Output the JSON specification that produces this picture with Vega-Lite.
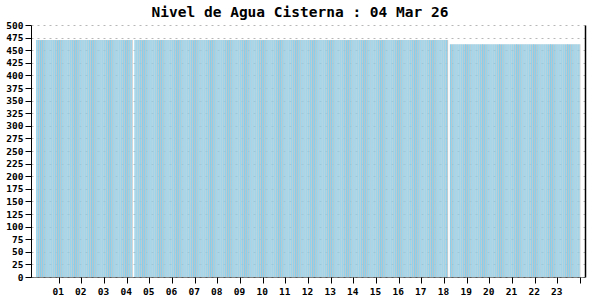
{
  "$schema": "https://vega.github.io/schema/vega-lite/v6.json",
  "autosize": "none",
  "width": 554,
  "height": 252,
  "padding": {"left": 31, "top": 25, "right": 15, "bottom": 23},
  "background": "white",
  "title": {
    "text": "Nivel de Agua Cisterna : 04 Mar 26",
    "font": "DejaVu Sans Mono",
    "fontSize": 14.5,
    "fontWeight": "bold",
    "color": "black",
    "offset": 3,
    "dy": 3,
    "dx": -8
  },
  "config": {
    "view": {"stroke": null},
    "axis": {
      "labelFont": "DejaVu Sans Mono",
      "labelFontSize": 9.5,
      "labelFontWeight": "bold",
      "labelColor": "black",
      "tickColor": "black",
      "domainColor": "black",
      "labelOverlap": false
    }
  },
  "data": {
    "values": [
      {"m":2,"n":470},{"m":7,"n":470},{"m":12,"n":470},{"m":17,"n":470},{"m":22,"n":470},{"m":27,"n":470},{"m":32,"n":470},{"m":37,"n":470},{"m":42,"n":470},{"m":47,"n":470},{"m":52,"n":470},{"m":57,"n":470},
      {"m":62,"n":470},{"m":67,"n":470},{"m":72,"n":470},{"m":77,"n":470},{"m":82,"n":470},{"m":87,"n":470},{"m":92,"n":470},{"m":97,"n":470},{"m":102,"n":470},{"m":107,"n":470},{"m":112,"n":470},{"m":117,"n":470},
      {"m":122,"n":470},{"m":127,"n":470},{"m":132,"n":470},{"m":137,"n":470},{"m":142,"n":470},{"m":147,"n":470},{"m":152,"n":470},{"m":157,"n":470},{"m":162,"n":470},{"m":167,"n":470},{"m":172,"n":470},{"m":177,"n":470},
      {"m":182,"n":470},{"m":187,"n":470},{"m":192,"n":470},{"m":197,"n":470},{"m":202,"n":470},{"m":207,"n":470},{"m":212,"n":470},{"m":217,"n":470},{"m":222,"n":470},{"m":227,"n":470},{"m":232,"n":470},{"m":237,"n":470},
      {"m":242,"n":470},{"m":247,"n":470},{"m":252,"n":470},{"m":262,"n":470},{"m":267,"n":470},{"m":272,"n":470},{"m":277,"n":470},{"m":282,"n":470},{"m":287,"n":470},{"m":292,"n":470},{"m":297,"n":470},
      {"m":302,"n":470},{"m":307,"n":470},{"m":312,"n":470},{"m":317,"n":470},{"m":322,"n":470},{"m":327,"n":470},{"m":332,"n":470},{"m":337,"n":470},{"m":342,"n":470},{"m":347,"n":470},{"m":352,"n":470},{"m":357,"n":470},
      {"m":362,"n":470},{"m":367,"n":470},{"m":372,"n":470},{"m":377,"n":470},{"m":382,"n":470},{"m":387,"n":470},{"m":392,"n":470},{"m":397,"n":470},{"m":402,"n":470},{"m":407,"n":470},{"m":412,"n":470},{"m":417,"n":470},
      {"m":422,"n":470},{"m":427,"n":470},{"m":432,"n":470},{"m":437,"n":470},{"m":442,"n":470},{"m":447,"n":470},{"m":452,"n":470},{"m":457,"n":470},{"m":462,"n":470},{"m":467,"n":470},{"m":472,"n":470},{"m":477,"n":470},
      {"m":482,"n":470},{"m":487,"n":470},{"m":492,"n":470},{"m":497,"n":470},{"m":502,"n":470},{"m":507,"n":470},{"m":512,"n":470},{"m":517,"n":470},{"m":522,"n":470},{"m":527,"n":470},{"m":532,"n":470},{"m":537,"n":470},
      {"m":542,"n":470},{"m":547,"n":470},{"m":552,"n":470},{"m":557,"n":470},{"m":562,"n":470},{"m":567,"n":470},{"m":572,"n":470},{"m":577,"n":470},{"m":582,"n":470},{"m":587,"n":470},{"m":592,"n":470},{"m":597,"n":470},
      {"m":602,"n":470},{"m":607,"n":470},{"m":612,"n":470},{"m":617,"n":470},{"m":622,"n":470},{"m":627,"n":470},{"m":632,"n":470},{"m":637,"n":470},{"m":642,"n":470},{"m":647,"n":470},{"m":652,"n":470},{"m":657,"n":470},
      {"m":662,"n":470},{"m":667,"n":470},{"m":672,"n":470},{"m":677,"n":470},{"m":682,"n":470},{"m":687,"n":470},{"m":692,"n":470},{"m":697,"n":470},{"m":702,"n":470},{"m":707,"n":470},{"m":712,"n":470},{"m":717,"n":470},
      {"m":722,"n":470},{"m":727,"n":470},{"m":732,"n":470},{"m":737,"n":470},{"m":742,"n":470},{"m":747,"n":470},{"m":752,"n":470},{"m":757,"n":470},{"m":762,"n":470},{"m":767,"n":470},{"m":772,"n":470},{"m":777,"n":470},
      {"m":782,"n":470},{"m":787,"n":470},{"m":792,"n":470},{"m":797,"n":470},{"m":802,"n":470},{"m":807,"n":470},{"m":812,"n":470},{"m":817,"n":470},{"m":822,"n":470},{"m":827,"n":470},{"m":832,"n":470},{"m":837,"n":470},
      {"m":842,"n":470},{"m":847,"n":470},{"m":852,"n":470},{"m":857,"n":470},{"m":862,"n":470},{"m":867,"n":470},{"m":872,"n":470},{"m":877,"n":470},{"m":882,"n":470},{"m":887,"n":470},{"m":892,"n":470},{"m":897,"n":470},
      {"m":902,"n":470},{"m":907,"n":470},{"m":912,"n":470},{"m":917,"n":470},{"m":922,"n":470},{"m":927,"n":470},{"m":932,"n":470},{"m":937,"n":470},{"m":942,"n":470},{"m":947,"n":470},{"m":952,"n":470},{"m":957,"n":470},
      {"m":962,"n":470},{"m":967,"n":470},{"m":972,"n":470},{"m":977,"n":470},{"m":982,"n":470},{"m":987,"n":470},{"m":992,"n":470},{"m":997,"n":470},{"m":1002,"n":470},{"m":1007,"n":470},{"m":1012,"n":470},{"m":1017,"n":470},
      {"m":1022,"n":470},{"m":1027,"n":470},{"m":1032,"n":470},{"m":1037,"n":470},{"m":1042,"n":470},{"m":1047,"n":470},{"m":1052,"n":470},{"m":1057,"n":470},{"m":1062,"n":470},{"m":1067,"n":470},{"m":1072,"n":470},{"m":1077,"n":470},
      {"m":1082,"n":470},{"m":1087,"n":470},{"m":1097,"n":462},{"m":1102,"n":462},{"m":1107,"n":462},{"m":1112,"n":462},{"m":1117,"n":462},{"m":1122,"n":462},{"m":1127,"n":462},{"m":1132,"n":462},{"m":1137,"n":462},
      {"m":1142,"n":462},{"m":1147,"n":462},{"m":1152,"n":462},{"m":1157,"n":462},{"m":1162,"n":462},{"m":1167,"n":462},{"m":1172,"n":462},{"m":1177,"n":462},{"m":1182,"n":462},{"m":1187,"n":462},{"m":1192,"n":462},{"m":1197,"n":462},
      {"m":1202,"n":462},{"m":1207,"n":462},{"m":1212,"n":462},{"m":1217,"n":462},{"m":1222,"n":462},{"m":1227,"n":462},{"m":1232,"n":462},{"m":1237,"n":462},{"m":1242,"n":462},{"m":1247,"n":462},{"m":1252,"n":462},{"m":1257,"n":462},
      {"m":1262,"n":462},{"m":1267,"n":462},{"m":1272,"n":462},{"m":1277,"n":462},{"m":1282,"n":462},{"m":1287,"n":462},{"m":1292,"n":462},{"m":1297,"n":462},{"m":1302,"n":462},{"m":1307,"n":462},{"m":1312,"n":462},{"m":1317,"n":462},
      {"m":1322,"n":462},{"m":1327,"n":462},{"m":1332,"n":462},{"m":1337,"n":462},{"m":1342,"n":462},{"m":1347,"n":462},{"m":1352,"n":462},{"m":1357,"n":462},{"m":1362,"n":462},{"m":1367,"n":462},{"m":1372,"n":462},{"m":1377,"n":462},
      {"m":1382,"n":462},{"m":1387,"n":462},{"m":1392,"n":462},{"m":1397,"n":462},{"m":1402,"n":462},{"m":1407,"n":462},{"m":1412,"n":462},{"m":1417,"n":462},{"m":1422,"n":462},{"m":1427,"n":462},{"m":1432,"n":462},{"m":1437,"n":462}
    ]
  },
  "encoding": {
    "x": {
      "field": "m",
      "type": "quantitative",
      "scale": {"domain": [0, 1440], "nice": false, "zero": false},
      "axis": {
        "title": null,
        "values": [60,120,180,240,300,360,420,480,540,600,660,720,780,840,900,960,1020,1080,1140,1200,1260,1320,1380,1440],
        "labelExpr": "datum.value < 1440 ? format(datum.value / 60, '02d') : ''",
        "grid": false,
        "tickSize": 6,
        "labelPadding": 3,
        "labelOffset": -1,
        "labelFlush": false,
        "labelOverlap": false,
        "domainDash": [1, 1],
        "domainColor": "black"
      }
    },
    "y": {
      "field": "n",
      "type": "quantitative",
      "scale": {"domain": [0, 500], "nice": false},
      "axis": {
        "title": null,
        "values": [0,25,50,75,100,125,150,175,200,225,250,275,300,325,350,375,400,425,450,475,500],
        "grid": true,
        "gridColor": "#b8b8b8",
        "gridDash": [2, 4],
        "tickSize": 6,
        "labelPadding": 2,
        "labelOverlap": false
      }
    }
  },
  "layer": [
    {
      "layer": [
        {"mark": {"type": "bar", "width": 1, "xOffset": 1, "color": "#c4c4c4"}},
        {"mark": {"type": "bar", "width": 1.1, "color": "#87CEEB"}}
      ]
    },
    {
      "mark": {"type": "rule", "opacity": 0},
      "encoding": {
        "x": {"field": "m", "type": "quantitative"},
        "y": {
          "field": "n",
          "type": "quantitative",
          "axis": {"orient": "right", "labels": false, "ticks": false, "grid": false, "title": null, "domain": true, "domainColor": "black", "domainWidth": 1.5}
        }
      }
    }
  ],
  "resolve": {"axis": {"y": "independent"}}
}
